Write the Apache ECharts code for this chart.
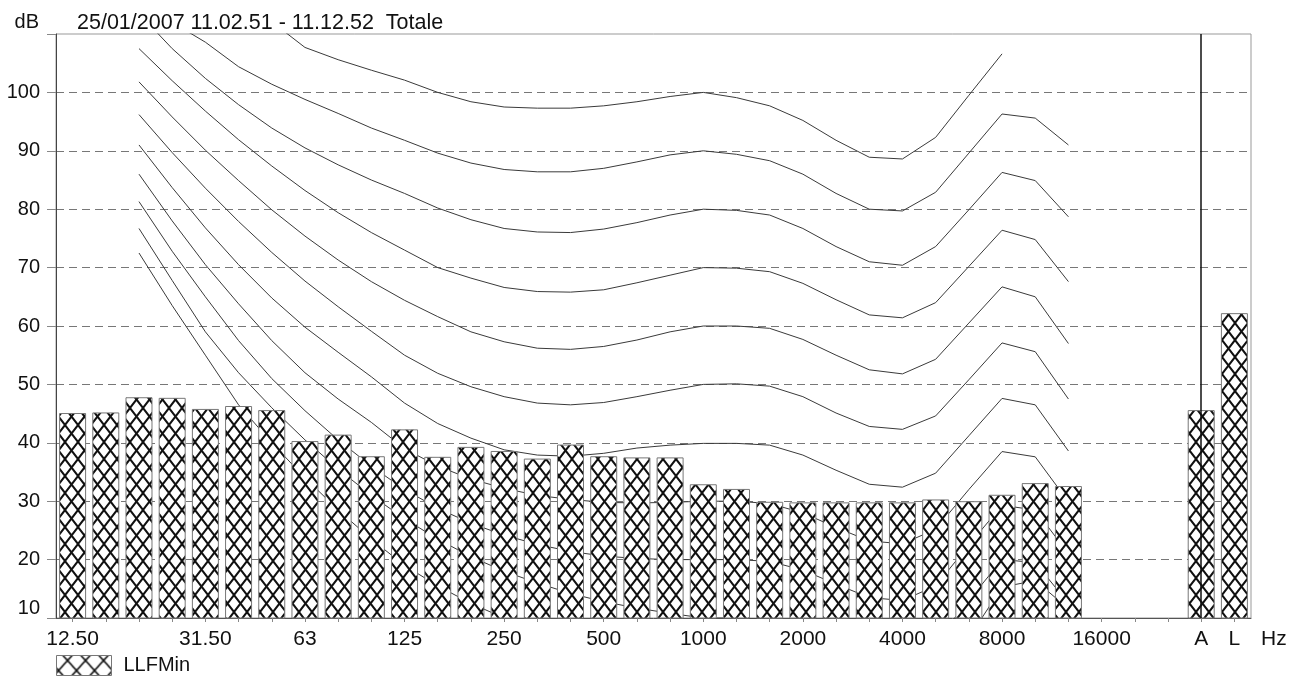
<!DOCTYPE html>
<html><head><meta charset="utf-8">
<script src="https://cdn.jsdelivr.net/npm/echarts/dist/echarts.min.js"></script>
<style>html,body{margin:0;padding:0;background:#fff}#c{width:1290px;height:677px}</style>
</head><body><div id="c"></div>
<script>
// Categories (third-octave bands + A, L)
const bands = ['12.50','16','20','25','31.50','40','50','63','80','100','125','160','200','250','315','400','500','630','800','1000','1250','1600','2000','2500','3150','4000','5000','6300','8000','10000','12500','16000','20000','','A','L'];
const tickLabels = ['12.50','','','','31.50','','','63','','','125','','','250','','','500','','','1000','','','2000','','','4000','','','8000','','','16000','','','A','L'];
const titleText = '25/01/2007 11.02.51 - 11.12.52  Totale';

// Bar values (LLFMin)
const llfMin = [45.1,45.2,47.8,47.7,45.8,46.3,45.6,40.3,41.4,37.7,42.3,37.6,39.3,38.6,37.3,39.7,37.7,37.5,37.5,32.9,32.1,29.9,29.8,29.8,29.8,29.8,30.3,30.0,31.1,33.1,32.6,null,null,null,45.6,62.2];

// Equal-loudness contours (dB per band)
const n = null;
const phon100 = [n,n,n,n,n,n,112.1,107.7,105.6,103.8,102.1,100.0,98.4,97.5,97.3,97.3,97.7,98.4,99.3,100.0,99.1,97.7,95.2,91.8,88.9,88.6,92.3,99.5,106.6,n,n,n,n,n,n,n];
const phon90 = [n,n,n,112.0,108.6,104.4,101.4,98.8,96.4,93.9,91.8,89.6,87.9,86.8,86.4,86.4,87.0,88.1,89.3,90.0,89.4,88.3,86.0,82.7,80.0,79.7,82.9,89.6,96.3,95.6,91.0,n,n,n,n,n];
const phon80 = [n,n,113.5,107.5,102.4,97.9,93.9,90.5,87.6,85.0,82.7,80.2,78.2,76.7,76.1,76.0,76.6,77.7,79.0,80.0,79.8,79.0,76.7,73.6,71.0,70.4,73.6,79.9,86.3,84.9,78.7,n,n,n,n,n];
const phon70 = [n,n,107.5,102.0,96.8,91.9,87.4,83.2,79.4,76.0,73.0,70.0,68.2,66.6,65.9,65.8,66.2,67.4,68.7,70.0,69.9,69.3,67.3,64.5,61.9,61.4,64.0,70.2,76.4,74.8,67.6,n,n,n,n,n];
const phon60 = [n,n,101.8,95.8,90.1,84.9,79.9,75.4,71.3,67.6,64.4,61.6,59.0,57.3,56.2,56.0,56.5,57.6,59.0,60.0,60.0,59.6,57.7,55.0,52.5,51.8,54.3,60.5,66.7,65.0,57.0,n,n,n,n,n];
const phon50 = [n,n,96.2,89.7,83.6,77.9,72.6,67.7,63.3,59.1,55.0,51.9,49.6,47.9,46.8,46.5,46.9,47.9,49.0,50.0,50.1,49.7,47.9,45.1,42.8,42.3,44.6,50.8,57.1,55.6,47.5,n,n,n,n,n];
const phon40 = [n,n,91.0,83.7,76.8,70.5,64.8,59.8,55.5,51.3,46.8,43.3,40.8,38.8,37.9,37.7,38.2,39.1,39.6,39.9,39.9,39.6,37.9,35.3,32.9,32.4,34.8,41.2,47.6,46.5,38.6,n,n,n,n,n];
const phon30 = [n,n,86.0,78.0,70.5,63.8,57.5,52.0,47.5,43.5,39.0,36.0,33.8,32.2,31.0,30.3,29.8,29.7,29.8,30.0,30.0,29.6,28.0,25.5,23.2,22.7,25.2,32.0,38.5,37.6,29.9,n,n,n,n,n];
const phon20 = [n,n,81.3,72.8,65.0,57.5,51.0,45.5,40.5,36.0,32.0,28.8,26.2,24.2,22.6,21.4,20.6,20.2,20.0,20.0,20.0,19.7,18.2,15.8,13.5,13.0,15.5,22.5,29.3,28.5,21.0,n,n,n,n,n];
const phon10 = [n,n,76.7,67.8,59.0,52.0,46.0,40.5,35.5,31.0,27.0,23.5,20.5,18.0,16.0,14.2,12.8,11.7,10.8,10.0,10.0,9.8,8.5,6.0,4.0,3.5,6.0,13.0,20.0,19.5,12.5,n,n,n,n,n];
const threshold = [n,n,72.5,63.5,55.0,46.5,40.0,34.0,28.5,23.5,19.0,15.5,12.5,10.0,8.0,6.5,5.5,4.8,4.4,4.2,3.7,2.6,1.0,-1.2,-3.6,-3.9,-1.1,6.6,15.3,16.4,11.6,n,n,n,n,n];
const contours = [phon100,phon90,phon80,phon70,phon60,phon50,phon40,phon30,phon20,phon10,threshold];

// Cross-hatch pattern tile
function makeHatch(w, h, lw){
  const c = document.createElement('canvas');
  c.width = w; c.height = h;
  const ctx = c.getContext('2d');
  ctx.fillStyle = '#fff'; ctx.fillRect(0,0,w,h);
  ctx.strokeStyle = '#111'; ctx.lineWidth = lw;
  ctx.beginPath();
  for (const dx of [-w, 0, w]) {
    ctx.moveTo(dx, 0); ctx.lineTo(dx + w, h);
    ctx.moveTo(dx + w, 0); ctx.lineTo(dx, h);
  }
  ctx.stroke();
  return c;
}
const hatch = makeHatch(13, 17, 2);
const legendHatch = makeHatch(18, 20, 1.6);

const FONT = 'Liberation Sans, Arial, sans-serif';
const chart = echarts.init(document.getElementById('c'), null, {renderer:'canvas'});

const lineSeries = contours.map(d => ({
  type:'line', data:d, symbol:'none', silent:true, z:2,
  lineStyle:{color:'#3a3a3a', width:1}, clip:true, connectNulls:false
}));

chart.setOption({
  animation:false,
  backgroundColor:'#fff',
  textStyle:{fontFamily:FONT},
  title:{text:titleText, left:77, top:12, padding:0,
    textStyle:{fontSize:21.5, fontWeight:'normal', color:'#111', fontFamily:FONT}},
  legend:{data:[{name:'LLFMin', itemStyle:{color:{image:legendHatch, repeat:'repeat', x:2, y:15}, borderColor:'#777', borderWidth:1}}],
    left:56, top:655, padding:0, itemWidth:55, itemHeight:20, icon:'rect',
    textStyle:{fontSize:20, color:'#111', fontFamily:FONT, padding:[0,0,0,7]}},
  grid:{left:56, right:39, top:34, bottom:59, show:true, borderColor:'#999', borderWidth:1, backgroundColor:'transparent'},
  xAxis:{type:'category', data:bands, boundaryGap:true,
    name:'Hz', nameLocation:'end', nameGap:10,
    nameTextStyle:{fontSize:21, color:'#111', fontFamily:FONT, verticalAlign:'top', lineHeight:42},
    axisLine:{lineStyle:{color:'#555', width:1}},
    axisTick:{show:true, alignWithLabel:true, interval:0, length:4, lineStyle:{color:'#888'}},
    axisLabel:{interval:0, margin:11, fontSize:21, color:'#111', fontFamily:FONT,
      formatter:(v,i)=>tickLabels[i]},
    splitLine:{show:false}},
  yAxis:{type:'value', min:10, max:110, interval:10,
    name:'dB', nameLocation:'end', nameGap:2,
    nameTextStyle:{fontSize:20, color:'#111', fontFamily:FONT, align:'right', padding:[0,17,0,0]},
    axisLine:{show:true, lineStyle:{color:'#444', width:1}},
    axisTick:{show:true, length:9, lineStyle:{color:'#888'}},
    axisLabel:{margin:16, fontSize:20, color:'#111', fontFamily:FONT,
      formatter:v=> v===110 ? '' : (v===10 ? '{lo|10}' : String(v)),
      rich:{lo:{fontSize:20, color:'#111', fontFamily:FONT, padding:[0,0,20,0]}}},
    splitLine:{show:true, showMinLine:false, showMaxLine:false,
      lineStyle:{color:'#777', type:[8,5], width:1}}},
  series:[
    ...lineSeries,
    {type:'bar', name:'LLFMin', data:llfMin, barWidth:27, z:3,
      itemStyle:{color:{image:hatch, repeat:'repeat'}, borderColor:'#777', borderWidth:1},
      markLine:{silent:true, symbol:['none','none'], label:{show:false},
        lineStyle:{color:'#111', width:1.5, type:'solid'},
        data:[{xAxis:'A'}]}}
  ]
});
</script>
</body></html>
